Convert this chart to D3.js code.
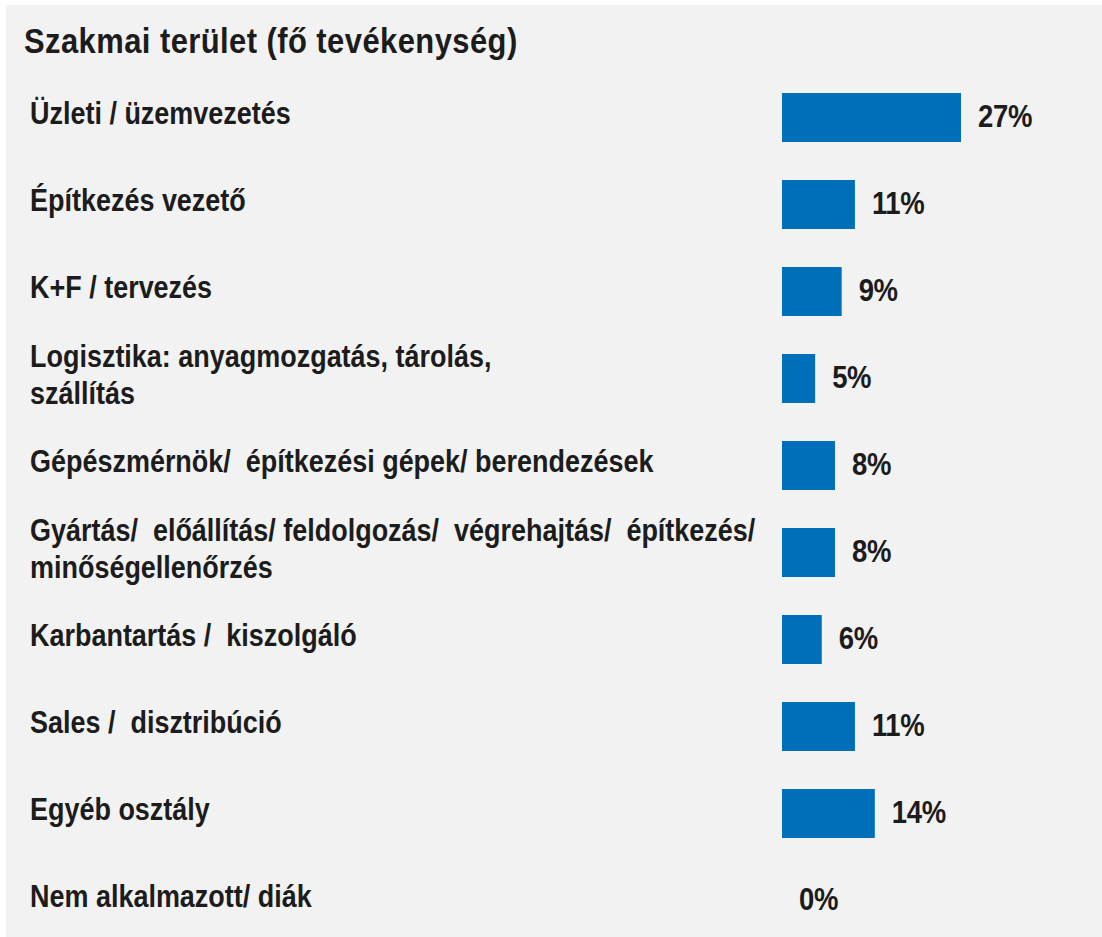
<!DOCTYPE html>
<html>
<head>
<meta charset="utf-8">
<script src="https://cdn.jsdelivr.net/npm/d3@7"></script>
<style>
  html, body { margin: 0; padding: 0; background: #fff; }
  svg text { font-family: "Liberation Sans", Arial, sans-serif; font-weight: bold; fill: #1c1c1c; white-space: pre; }
</style>
</head>
<body>
<svg width="1102" height="937"></svg>
<script>
const title = 'Szakmai terület (fő tevékenység)';

const categories = [
    ['Üzleti / üzemvezetés'],
    ['Építkezés vezető'],
    ['K+F / tervezés'],
    ['Logisztika: anyagmozgatás, tárolás,', 'szállítás'],
    ['Gépészmérnök/  építkezési gépek/ berendezések'],
    ['Gyártás/  előállítás/ feldolgozás/  végrehajtás/  építkezés/', 'minőségellenőrzés'],
    ['Karbantartás /  kiszolgáló'],
    ['Sales /  disztribúció'],
    ['Egyéb osztály'],
    ['Nem alkalmazott/ diák']
];

const values = [27, 11, 9, 5, 8, 8, 6, 11, 14, 0];

// the original text is a tall, narrow bold sans
const squeeze = 0.86;
const labelSqueeze = 0.87;

const svg = d3.select('svg');

svg.append('rect')
    .attr('x', 6)
    .attr('y', 5)
    .attr('width', 1096)
    .attr('height', 932)
    .attr('fill', '#f2f2f2');

svg.append('text')
    .attr('transform', 'translate(24,53) scale(' + squeeze + ',1)')
    .style('font-size', '36px')
    .style('letter-spacing', '0.5px')
    .text(title);

const x = d3.scaleLinear()
    .domain([0, 100])
    .range([782, 782 + 663]);

const y = d3.scaleBand()
    .domain(d3.range(categories.length))
    .range([74, 944])
    .paddingInner(0.437)
    .paddingOuter(0.2185);

const rows = svg.append('g')
    .selectAll('g')
    .data(values)
    .enter().append('g');

rows.append('rect')
    .attr('x', x(0))
    .attr('y', function (d, i) { return y(i); })
    .attr('width', function (d) { return x(d) - x(0); })
    .attr('height', y.bandwidth())
    .attr('fill', '#006fb9');

rows.append('text')
    .attr('transform', function (d, i) {
        return 'translate(' + (x(d) + 17) + ',' + (y(i) + y.bandwidth() / 2) + ') scale(' + squeeze + ',1)';
    })
    .attr('dy', '0.3em')
    .style('font-size', '32px')
    .style('letter-spacing', '-0.4px')
    .text(function (d) { return d + '%'; });

// category labels, one or two lines
const labels = svg.append('g')
    .selectAll('text')
    .data(categories)
    .enter().append('text')
    .attr('transform', function (d, i) {
        return 'translate(30,' + (y(i) + y.bandwidth() / 2) + ') scale(' + labelSqueeze + ',1)';
    })
    .style('font-size', '31px')
    .style('letter-spacing', '0px');

labels.selectAll('tspan')
    .data(function (d) { return d; })
    .enter().append('tspan')
    .attr('x', 0)
    .attr('dy', function (d, i, nodes) {
        const n = nodes.length;
        if (i === 0) return (0.22 - (n - 1) * 0.6) + 'em';
        return '1.2em';
    })
    .text(function (d) { return d; });
</script>
</body>
</html>
